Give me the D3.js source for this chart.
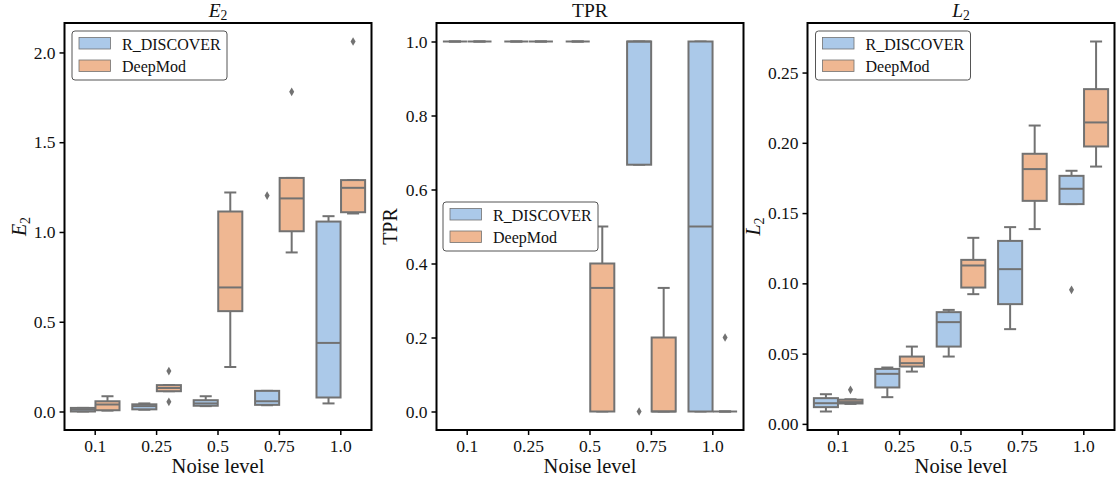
<!DOCTYPE html>
<html><head><meta charset="utf-8">
<script src="https://cdn.jsdelivr.net/npm/d3@7"></script>
<style>body{margin:0;background:#fff}svg{display:block}</style>
</head><body>
<svg id="c" width="1117" height="483"></svg>
<script>
// ---- data ----
const categories = ["0.1", "0.25", "0.5", "0.75", "1.0"];
const seriesNames = ["R_DISCOVER", "DeepMod"];
// box stats per category: [whiskerLow, q1, median, q3, whiskerHigh]
const e2RDiscover = [[0.0,0.0,0.01,0.02,0.02],[0.01,0.012,0.03,0.04,0.045],[0.03,0.032,0.045,0.063,0.085],[0.035,0.037,0.057,0.115,0.115],[0.045,0.078,0.382,1.058,1.088]];
const e2RDiscoverOut = [[],[],[],[1.203],[]];
const e2DeepMod = [[0.005,0.007,0.039,0.057,0.085],[0.113,0.113,0.131,0.147,0.147],[0.248,0.559,0.691,1.114,1.22],[0.886,1.004,1.187,1.301,1.301],[1.103,1.11,1.246,1.289,1.289]];
const e2DeepModOut = [[],[0.225,0.054],[],[1.781],[2.061]];
const tprRDiscover = [[1,1,1,1,1],[1,1,1,1,1],[1,1,1,1,1],[0.667,0.667,1,1,1],[0,0,0.5,1,1]];
const tprRDiscoverOut = [[],[],[],[0],[]];
const tprDeepMod = [[1,1,1,1,1],[1,1,1,1,1],[0,0,0.334,0.4,0.5],[0,0,0,0.2,0.334],[0,0,0,0,0]];
const tprDeepModOut = [[],[],[],[],[0.2]];
const l2RDiscover = [[0.0088,0.0119,0.0147,0.0183,0.0211],[0.019,0.0259,0.0356,0.0391,0.0401],[0.0479,0.055,0.0724,0.0795,0.0811],[0.0674,0.0852,0.1101,0.1302,0.14],[0.1564,0.1564,0.1673,0.1765,0.1801]];
const l2RDiscoverOut = [[],[],[],[],[0.0954]];
const l2DeepMod = [[0.0142,0.0145,0.0155,0.0172,0.0175],[0.0372,0.0408,0.0432,0.0479,0.055],[0.0923,0.097,0.1127,0.1167,0.1324],[0.1386,0.1587,0.1813,0.1922,0.2123],[0.1831,0.1974,0.2145,0.2382,0.2721]];
const l2DeepModOut = [[0.0242],[],[],[],[]];
const e2Ticks = [0, 0.5, 1.0, 1.5, 2.0];
const tprTicks = [0, 0.2, 0.4, 0.6, 0.8, 1.0];
const l2Ticks = [0, 0.05, 0.10, 0.15, 0.20, 0.25];

// ---- styling ----
const FONT = "'Liberation Serif', 'DejaVu Serif', serif";
const colors = ["#abc9e9", "#efb792"];
const lineGray = "#727272";
const panels = [
  {left: 64.5, title: "E", sub: "2", italic: true, stats: [e2RDiscover, e2DeepMod], outs: [e2RDiscoverOut, e2DeepModOut], ticks: e2Ticks, fmt: d3.format(".1f"), ylabX: 20, legend: {x: 72, y: 31}},
  {left: 436.5, title: "TPR", sub: "", italic: false, stats: [tprRDiscover, tprDeepMod], outs: [tprRDiscoverOut, tprDeepModOut], ticks: tprTicks, fmt: d3.format(".1f"), ylabX: 391, legend: {x: 443, y: 202}},
  {left: 807.5, title: "L", sub: "2", italic: true, stats: [l2RDiscover, l2DeepMod], outs: [l2RDiscoverOut, l2DeepModOut], ticks: l2Ticks, fmt: d3.format(".2f"), ylabX: 754, legend: {x: 815.5, y: 31}}
];
const W = 307, topY = 23, bottomY = 430;
const svg = d3.select("#c");

function label(sel, p) {
  if (p.italic) {
    sel.append("tspan").attr("font-style", "italic").text(p.title);
    sel.append("tspan").attr("font-size", "0.7em").attr("dy", "0.25em").text(p.sub);
  } else sel.text(p.title);
}

panels.forEach(p => {
  const g = svg.append("g");
  const x = d3.scaleBand().domain(categories).range([p.left, p.left + W]).paddingInner(0).paddingOuter(0);
  const allV = [];
  p.stats.forEach((s, k) => { s.forEach(r => allV.push(...r)); p.outs[k].forEach(o => allV.push(...o)); });
  const mn = d3.min(allV), mx = d3.max(allV), pad = (mx - mn) * 0.05;
  const y = d3.scaleLinear().domain([mn - pad, mx + pad]).range([bottomY, topY]);
  const bw = x.bandwidth();
  const boxW = bw * 0.4 * 0.98;

  p.stats.forEach((series, k) => {
    const off = (k === 0 ? -0.2 : 0.2) * bw;
    series.forEach((st, i) => {
      const cx = x(categories[i]) + bw / 2 + off;
      const [lo, q1, med, q3, hi] = st;
      const bg = g.append("g");
      bg.append("line").attr("x1", cx).attr("x2", cx).attr("y1", y(q3)).attr("y2", y(hi)).attr("stroke", lineGray).attr("stroke-width", 2);
      bg.append("line").attr("x1", cx).attr("x2", cx).attr("y1", y(q1)).attr("y2", y(lo)).attr("stroke", lineGray).attr("stroke-width", 2);
      bg.append("line").attr("x1", cx - boxW / 4).attr("x2", cx + boxW / 4).attr("y1", y(hi)).attr("y2", y(hi)).attr("stroke", lineGray).attr("stroke-width", 2);
      bg.append("line").attr("x1", cx - boxW / 4).attr("x2", cx + boxW / 4).attr("y1", y(lo)).attr("y2", y(lo)).attr("stroke", lineGray).attr("stroke-width", 2);
      bg.append("rect").attr("x", cx - boxW / 2).attr("width", boxW).attr("y", y(q3)).attr("height", Math.max(0, y(q1) - y(q3)))
        .attr("fill", colors[k]).attr("stroke", lineGray).attr("stroke-width", 2);
      bg.append("line").attr("x1", cx - boxW / 2).attr("x2", cx + boxW / 2).attr("y1", y(med)).attr("y2", y(med)).attr("stroke", lineGray).attr("stroke-width", 2);
      p.outs[k][i].forEach(o => {
        bg.append("path").attr("d", d3.symbol(d3.symbolDiamond, 22)()).attr("transform", `translate(${cx},${y(o)})`).attr("fill", lineGray);
      });
    });
  });

  g.append("rect").attr("x", p.left).attr("y", topY).attr("width", W).attr("height", bottomY - topY).attr("fill", "none").attr("stroke", "#000").attr("stroke-width", 2);

  const xa = g.append("g").attr("transform", `translate(0,${bottomY})`).call(d3.axisBottom(x).tickSize(5).tickPadding(5));
  const ya = g.append("g").attr("transform", `translate(${p.left},0)`).call(d3.axisLeft(y).tickValues(p.ticks).tickFormat(p.fmt).tickSize(5).tickPadding(4));
  [xa, ya].forEach(a => {
    a.attr("font-family", null).attr("font-size", null);
    a.select(".domain").remove();
    a.selectAll(".tick line").attr("stroke", "#000").attr("stroke-width", 1.5);
    a.selectAll(".tick text").attr("font-size", 17.5).attr("fill", "#111");
  });

  const t = g.append("text").attr("x", p.left + W / 2).attr("y", 17).attr("text-anchor", "middle").attr("font-size", 19.5).attr("fill", "#111");
  label(t, p);
  g.append("text").attr("x", p.left + W / 2).attr("y", 473).attr("text-anchor", "middle").attr("font-size", 20.5).attr("fill", "#111").text("Noise level");
  const yl = g.append("text").attr("transform", `translate(${p.ylabX + 6},${(topY + bottomY) / 2}) rotate(-90)`).attr("text-anchor", "middle").attr("font-size", 20).attr("fill", "#111");
  label(yl, p);

  const L = g.append("g").attr("transform", `translate(${p.legend.x},${p.legend.y})`);
  L.append("rect").attr("width", 155).attr("height", 49).attr("rx", 3).attr("fill", "#fff").attr("stroke", "#555").attr("stroke-width", 1);
  seriesNames.forEach((n, k) => {
    L.append("rect").attr("x", 7).attr("y", 6.5 + k * 22.5).attr("width", 31.5).attr("height", 11.5).attr("fill", colors[k]).attr("stroke", lineGray).attr("stroke-width", 0.8);
    L.append("text").attr("x", 50).attr("y", 18.5 + k * 22.5).attr("font-size", 16).attr("fill", "#111").text(n);
  });
});
svg.selectAll("text").style("font-family", FONT);
</script>
</body></html>
